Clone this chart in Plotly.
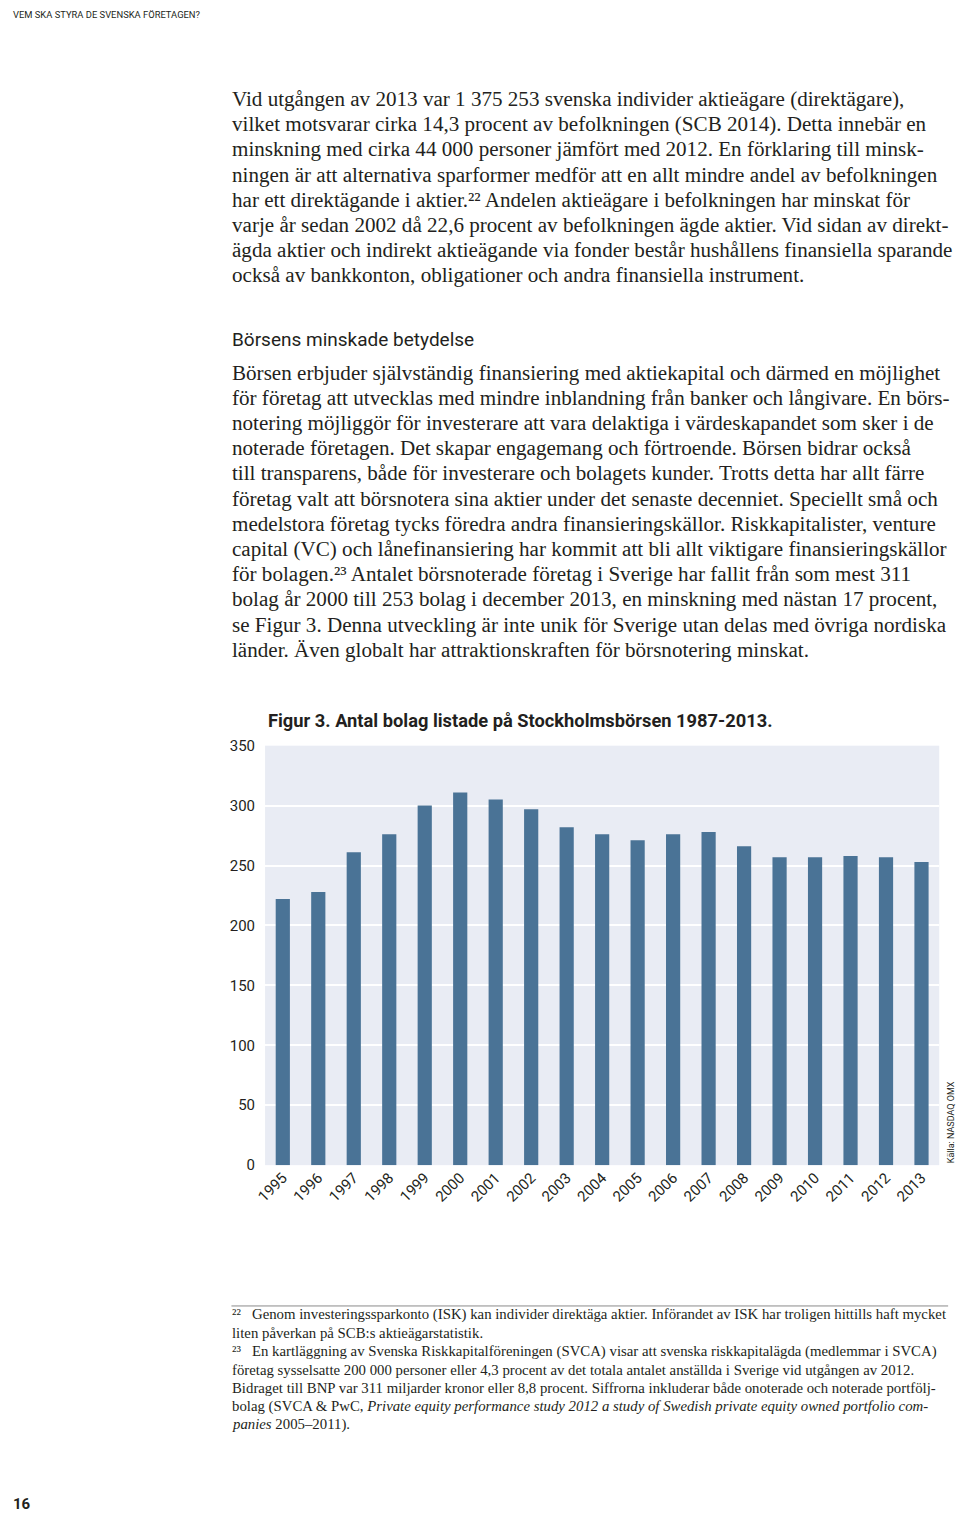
import plotly.graph_objects as go

W, H = 960, 1521

years = ["1995", "1996", "1997", "1998", "1999", "2000", "2001", "2002", "2003", "2004",
         "2005", "2006", "2007", "2008", "2009", "2010", "2011", "2012", "2013"]
listed = [222, 228, 261, 276, 300, 311, 305, 297, 282, 276,
          271, 276, 278, 266, 257, 257, 258, 257, 253]
y_ticks = [0, 50, 100, 150, 200, 250, 300, 350]

header = "VEM SKA STYRA DE SVENSKA FÖRETAGEN?"
para1 = [
    "Vid utgången av 2013 var 1 375 253 svenska individer aktieägare (direktägare),",
    "vilket motsvarar cirka 14,3 procent av befolkningen (SCB 2014). Detta innebär en",
    "minskning med cirka 44 000 personer jämfört med 2012. En förklaring till minsk-",
    "ningen är att alternativa sparformer medför att en allt mindre andel av befolkningen",
    "har ett direktägande i aktier.²² Andelen aktieägare i befolkningen har minskat för",
    "varje år sedan 2002 då 22,6 procent av befolkningen ägde aktier. Vid sidan av direkt-",
    "ägda aktier och indirekt aktieägande via fonder består hushållens finansiella sparande",
    "också av bankkonton, obligationer och andra finansiella instrument.",
]
heading = "Börsens minskade betydelse"
para2 = [
    "Börsen erbjuder självständig finansiering med aktiekapital och därmed en möjlighet",
    "för företag att utvecklas med mindre inblandning från banker och långivare. En börs-",
    "notering möjliggör för investerare att vara delaktiga i värdeskapandet som sker i de",
    "noterade företagen. Det skapar engagemang och förtroende. Börsen bidrar också",
    "till transparens, både för investerare och bolagets kunder. Trotts detta har allt färre",
    "företag valt att börsnotera sina aktier under det senaste decenniet. Speciellt små och",
    "medelstora företag tycks föredra andra finansieringskällor. Riskkapitalister, venture",
    "capital (VC) och lånefinansiering har kommit att bli allt viktigare finansieringskällor",
    "för bolagen.²³ Antalet börsnoterade företag i Sverige har fallit från som mest 311",
    "bolag år 2000 till 253 bolag i december 2013, en minskning med nästan 17 procent,",
    "se Figur 3. Denna utveckling är inte unik för Sverige utan delas med övriga nordiska",
    "länder. Även globalt har attraktionskraften för börsnotering minskat.",
]
chart_title = "Figur 3. Antal bolag listade på Stockholmsbörsen 1987-2013."
source = "Källa: NASDAQ OMX"
footnotes = [
    "²²   Genom investeringssparkonto (ISK) kan individer direktäga aktier. Införandet av ISK har troligen hittills haft mycket",
    "liten påverkan på SCB:s aktieägarstatistik.",
    "²³   En kartläggning av Svenska Riskkapitalföreningen (SVCA) visar att svenska riskkapitalägda (medlemmar i SVCA)",
    "företag sysselsatte 200 000 personer eller 4,3 procent av det totala antalet anställda i Sverige vid utgången av 2012.",
    "Bidraget till BNP var 311 miljarder kronor eller 8,8 procent. Siffrorna inkluderar både onoterade och noterade portfölj-",
    "bolag (SVCA &amp; PwC, <i>Private equity performance study 2012 a study of Swedish private equity owned portfolio com-</i>",
    "<i>panies</i> 2005–2011).",
]
page_no = "16"


def px(x):
    return x / W


def py(y):
    return 1 - y / H


SERIF = "Liberation Serif"
SANS = "Roboto"
TXT = "#231f20"

fig = go.Figure()
fig.add_trace(go.Bar(
    x=years, y=listed, marker=dict(color="#4a7396", line=dict(width=0)),
    hoverinfo="x+y",
))

plot_l, plot_r, plot_t, plot_b = 257, 939, 745.5, 1170

fig.update_layout(
    width=W, height=H,
    margin=dict(l=0, r=0, t=0, b=0),
    paper_bgcolor="white",
    plot_bgcolor="#e9ecf4",
    bargap=0.6,
    showlegend=False,
    xaxis=dict(
        domain=[px(plot_l), px(plot_r)],
        tickangle=-45, tickfont=dict(family=SANS, size=15, color=TXT),
        showgrid=False, ticks="", showline=False, zeroline=False,
    ),
    yaxis=dict(
        domain=[py(plot_b), py(plot_t)],
        range=[0, 350], tickvals=y_ticks,
        tickfont=dict(family=SANS, size=15, color=TXT),
        gridcolor="white", gridwidth=2, zeroline=False, showline=False,
        ticklabelstandoff=9,
    ),
)

ann = []


def add_text(text, x, y, family, size, xanchor="left", yanchor="middle", **kw):
    ann.append(dict(text=text, x=px(x), y=py(y), xanchor=xanchor, yanchor=yanchor,
                    align="left", font=dict(family=family, size=size, color=TXT),
                    xref="paper", yref="paper", showarrow=False, **kw))


add_text(header, 0, 6, SANS, 9.4)
for i, line in enumerate(para1):
    add_text(line, 222, 91 + 25.5 * i, SERIF, 21.1)
add_text(heading, 222, 334, SANS, 19)
for i, line in enumerate(para2):
    add_text(line, 222, 368 + 25.5 * i, SERIF, 21.1)
add_text("<b>" + chart_title + "</b>", 258, 720, SANS, 18.3)
add_text(source, 951, 1170, SANS, 9, xanchor="center", yanchor="bottom", textangle=-90)
for i, line in enumerate(footnotes):
    add_text(line, 222, 1321.5 + 18.5 * i, SERIF, 14.8)
add_text("<b>" + page_no + "</b>", 0, 1513, SANS, 15)

fig.update_layout(annotations=ann)

fig.add_shape(type="line", xref="paper", yref="paper",
              x0=px(223), x1=px(948), y0=py(1312.5), y1=py(1312.5),
              line=dict(color="#8a8a8a", width=1))

fig.write_html(
    "out.html",
    config={"displayModeBar": False},
    post_script="document.body.style.margin='0';document.body.style.overflow='hidden';",
)
